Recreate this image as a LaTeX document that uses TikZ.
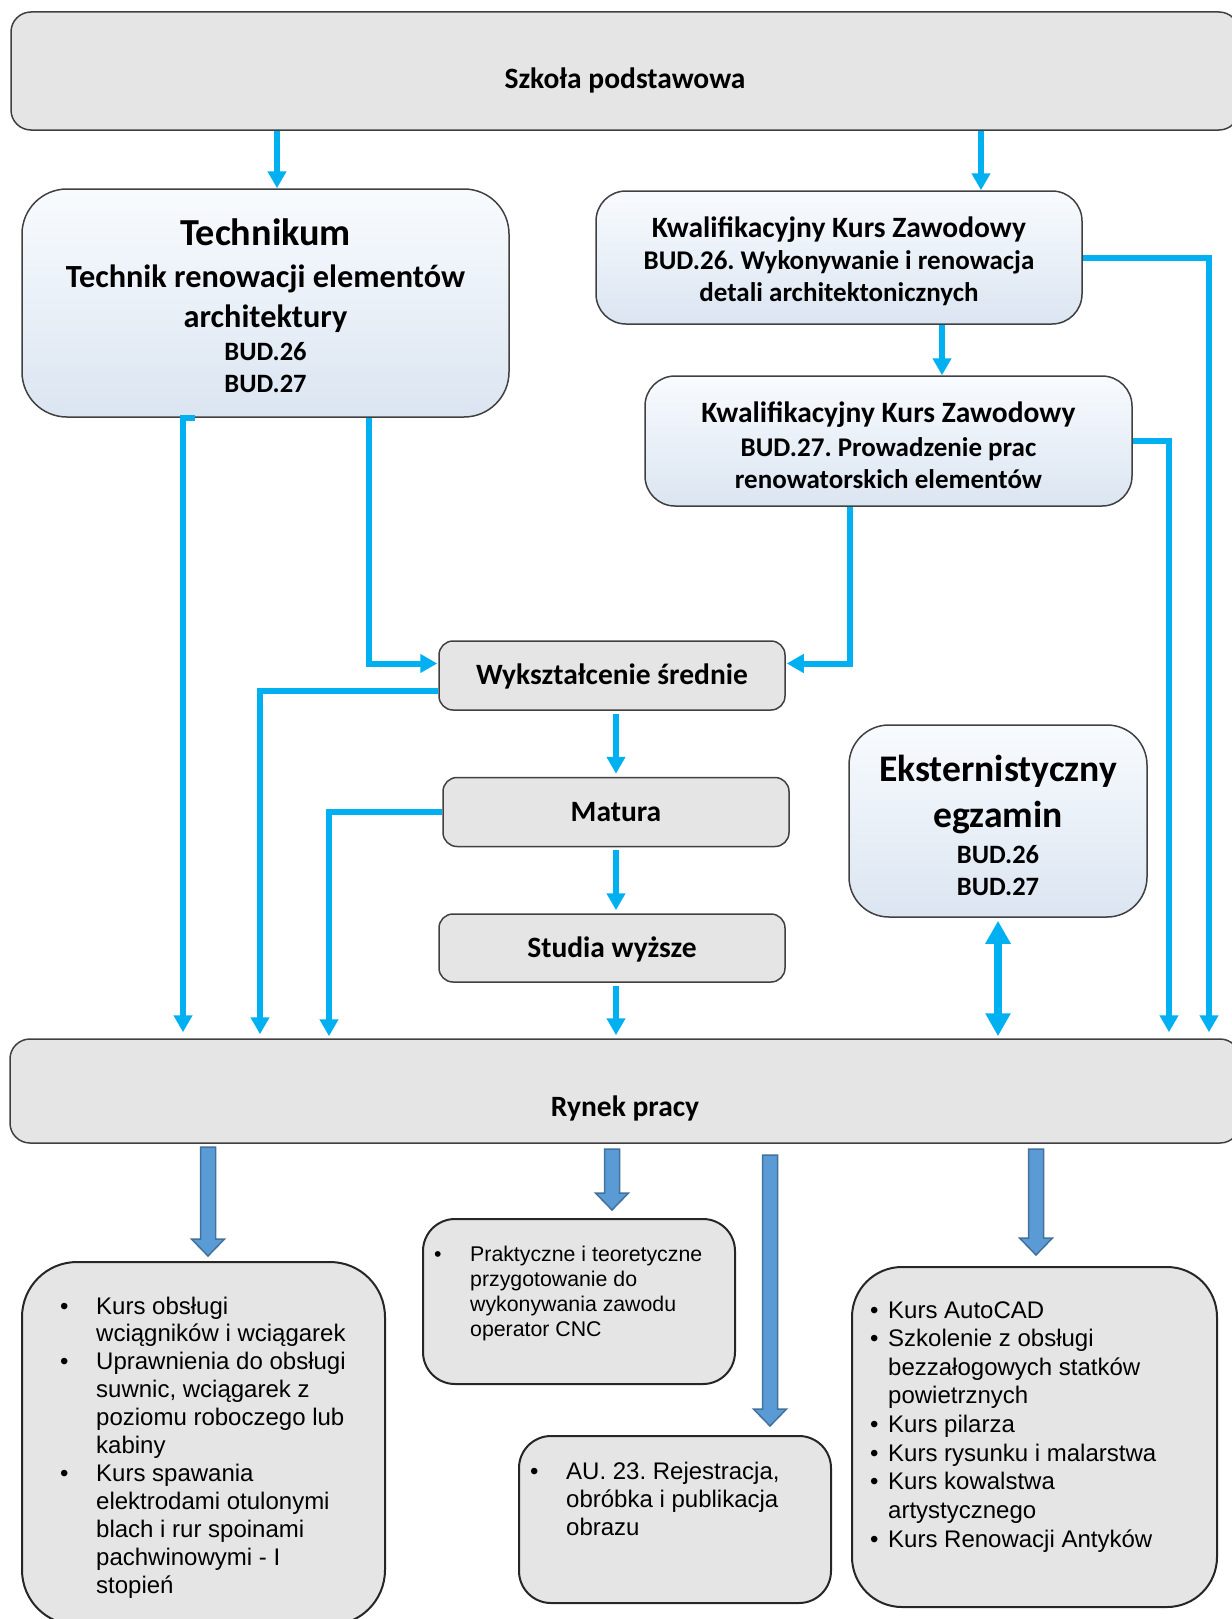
\documentclass[tikz,border=0pt]{standalone}
\usepackage{fontspec}
\setmainfont{Carlito}
\newfontfamily\arialfont{Liberation Sans}
\usetikzlibrary{arrows.meta,positioning}
\definecolor{boxgrey}{HTML}{E5E5E5}
\definecolor{boxline}{HTML}{404040}
\definecolor{bluetop}{HTML}{F8FBFE}
\definecolor{bluebot}{HTML}{DBE5F1}
\definecolor{linkblue}{HTML}{00B0F0}
\definecolor{fatblue}{HTML}{5B9BD5}
\definecolor{fatline}{HTML}{41719C}
\tikzset{
  greybox/.style={draw=boxline, fill=boxgrey, line width=1.5pt, rounded corners=14pt,
    inner sep=0pt, align=center, text height=21pt, text depth=3pt,
    font=\bfseries\fontsize{29.5}{35}\selectfont},
  bluebox/.style={draw=boxline, top color=bluetop, bottom color=bluebot, line width=1.5pt,
    inner sep=0pt, align=center, font=\bfseries\fontsize{26.5}{32}\selectfont},
  listbox/.style={draw=black!85, fill=boxgrey, line width=2pt, inner sep=0pt},
  listtext/.style={anchor=base west, inner sep=0pt, font=\arialfont},
  link/.style={draw=linkblue, line width=6pt, -{Triangle[length=17pt,width=18pt]},
    shorten <=3pt, shorten >=3pt},
  both/.style={draw=linkblue, line width=8pt,
    {Triangle[length=23pt,width=24pt]}-{Triangle[length=23pt,width=24pt]},
    shorten <=3pt, shorten >=2pt},
  fat/.style={draw=fatline, fill=fatblue, line width=1.5pt, line join=miter}
}
\newcommand{\fatdown}[3]{\draw[fat] (#1-7.5,#2) -- (#1+7.5,#2) -- (#1+7.5,#3-17)
  -- (#1+16.5,#3-17) -- (#1,#3) -- (#1-16.5,#3-17) -- (#1-7.5,#3-17) -- cycle;}
\begin{document}
\frenchspacing
\begin{tikzpicture}[x=1pt, y=-1pt]
\useasboundingbox (0,0) rectangle (1231,1619);
	\node (szkola) [greybox, minimum width=1228pt, minimum height=118pt, rounded corners=20pt,
	  text height=42pt, text depth=7pt] at (625,71) {Szkoła podstawowa};
	\node (tech) [bluebox, minimum width=487pt, minimum height=228pt, rounded corners=45pt] at (265.5,303)
	  {\rule{0pt}{33pt}{\fontsize{38.2}{44}\selectfont Technikum}\\[10pt]
	   {\fontsize{32.3}{38}\selectfont Technik renowacji elementów}\\[8pt]
	   {\fontsize{32.3}{38}\selectfont architektury}\\[1pt]
	   BUD.26\\ BUD.27};
	\node (kkz1) [bluebox, minimum width=486pt, minimum height=133pt, rounded corners=30pt] at (839,257.5)
	  {\rule{0pt}{28.7pt}{\fontsize{29.5}{35}\selectfont Kwalifikacyjny Kurs Zawodowy}\\
	   {\fontsize{27}{32}\selectfont BUD.26. Wykonywanie i renowacja}\\
	   {\fontsize{27}{32}\selectfont detali architektonicznych}};
	\node (kkz2) [bluebox, minimum width=487pt, minimum height=130pt, rounded corners=30pt] at (888.5,441)
	  {\rule{0pt}{28.7pt}{\fontsize{29.5}{35}\selectfont Kwalifikacyjny Kurs Zawodowy}\\[2pt]
	   {\fontsize{27}{32}\selectfont BUD.27. Prowadzenie prac}\\
	   {\fontsize{27}{32}\selectfont renowatorskich elementów}};
	\node (wyk) [greybox, minimum width=346pt, minimum height=69pt] at (612,675.5) {Wykształcenie średnie};
	\node (matura) [greybox, minimum width=346pt, minimum height=69pt, below=66pt of wyk, xshift=4pt] {Matura};
	\node (studia) [greybox, minimum width=346pt, minimum height=68pt, below=66pt of matura, xshift=-4pt] {Studia wyższe};
	\node (egz) [bluebox, minimum width=298pt, minimum height=192pt, rounded corners=40pt] at (998,821)
	  {\rule{0pt}{35pt}{\fontsize{37.6}{44}\selectfont Eksternistyczny}\\[13pt]
	   {\fontsize{37.6}{44}\selectfont egzamin}\\[4pt]
	   BUD.26\\ BUD.27};
	\node (rynek) [greybox, minimum width=1230pt, minimum height=104pt, rounded corners=20pt,
	  text height=58pt, text depth=7pt] at (625,1091) {Rynek pracy};
	\node (kursyL) [listbox, minimum width=363pt, minimum height=363pt, rounded corners=55pt] at (203.5,1443.5) {};
	\node (cnc) [listbox, minimum width=312pt, minimum height=165pt, rounded corners=32pt] at (579,1301.5) {};
	\node (au) [listbox, minimum width=312pt, minimum height=167pt, rounded corners=32pt] at (675,1519.5) {};
	\node (kursyR) [listbox, minimum width=365pt, minimum height=340pt, rounded corners=50pt] at (1034.5,1437) {};
	\node (kursyLtxt) [listtext] at (60,1314) {\fontsize{24}{27.9}\selectfont
	  \begin{tabular}[t]{@{}p{36pt}@{}l@{}}
	  \textbullet & Kurs obsługi\\ & wciągników i wciągarek\\
	  \textbullet & Uprawnienia do obsługi\\ & suwnic, wciągarek z\\ & poziomu roboczego lub\\ & kabiny\\
	  \textbullet & Kurs spawania\\ & elektrodami otulonymi\\ & blach i rur spoinami\\ & pachwinowymi - I\\ & stopień
	  \end{tabular}};
	\node (cnctxt) [listtext] at (434,1261) {\fontsize{21.3}{25}\selectfont
	  \begin{tabular}[t]{@{}p{36pt}@{}l@{}}
	  \textbullet & Praktyczne i teoretyczne\\ & przygotowanie do\\ & wykonywania zawodu\\ & operator CNC
	  \end{tabular}};
	\node (autxt) [listtext] at (530,1479) {\fontsize{24}{28.4}\selectfont
	  \begin{tabular}[t]{@{}p{36pt}@{}l@{}}
	  \textbullet & AU. 23. Rejestracja,\\ & obróbka i publikacja\\ & obrazu
	  \end{tabular}};
	\node (kursyRtxt) [listtext] at (870,1318) {\fontsize{24}{28.66}\selectfont
	  \begin{tabular}[t]{@{}p{18pt}@{}l@{}}
	  \textbullet & Kurs AutoCAD\\
	  \textbullet & Szkolenie z obsługi\\ & bezzałogowych statków\\ & powietrznych\\
	  \textbullet & Kurs pilarza\\
	  \textbullet & Kurs rysunku i malarstwa\\
	  \textbullet & Kurs kowalstwa\\ & artystycznego\\
	  \textbullet & Kurs Renowacji Antyków
	  \end{tabular}};
	\draw [link, shorten <=0pt, shorten >=0pt] (szkola.south -| 277,0) to (tech.north -| 277,0);
	\draw [link, shorten <=0pt, shorten >=0pt] (szkola.south -| 981,0) to (kkz1.north -| 981,0);
	\draw [link, shorten <=0pt, shorten >=0pt] (kkz1.south -| 942,0) to (kkz2.north -| 942,0);
	\draw [link, shorten <=0pt, shorten >=6pt] (kkz1.east) -| (rynek.north -| 1209,0);
	\draw [link, shorten <=0pt, shorten >=6pt] (kkz2.east) -| (rynek.north -| 1169,0);
	\draw [link, shorten <=0pt, shorten >=1pt] (kkz2.south -| 850,0) |- ([yshift=12pt]wyk.east);
	\draw [link, shorten <=0pt, shorten >=1pt] (tech.south -| 369,0) |- ([yshift=12pt]wyk.west);
	\draw [link, shorten <=0pt, shorten >=6pt] (tech.south -| 195,0) -- (tech.south -| 183,0) -- (rynek.north -| 183,0);
	\draw [link, shorten <=0pt, shorten >=4pt] ([yshift=-15pt]wyk.west) -| (rynek.north -| 260,0);
	\draw [link, shorten <=0pt, shorten >=2pt] (matura.west) -| (rynek.north -| 329,0);
	\draw [link] (wyk.south -| 616,0) to (matura.north -| 616,0);
	\draw [link] (matura.south -| 616,0) to (studia.north -| 616,0);
	\draw [link] (studia.south -| 616,0) to (rynek.north -| 616,0);
	\draw [both] (egz.south) to (rynek.north -| egz.south);
	\fatdown{208}{1147}{1256}
	\fatdown{612}{1149}{1210}
	\fatdown{770}{1155}{1426}
	\fatdown{1036}{1149}{1255}
\end{tikzpicture}
\end{document}
